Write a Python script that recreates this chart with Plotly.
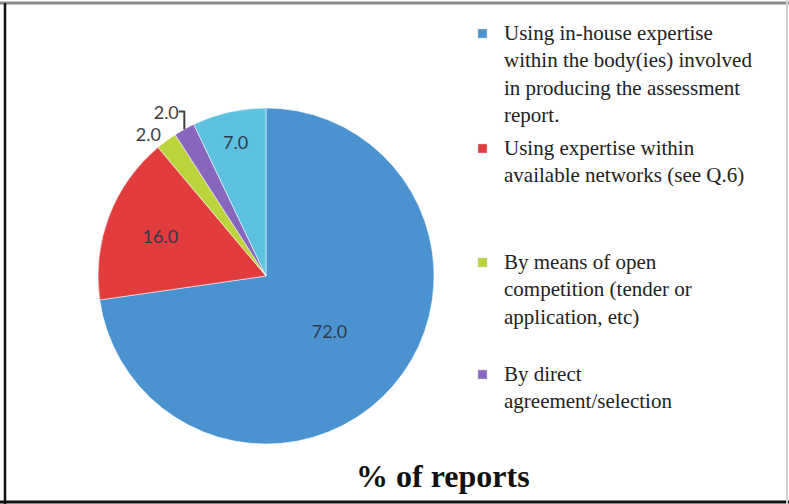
import plotly.graph_objects as go

labels = [
    "Using in-house expertise within the body(ies) involved in producing the assessment report.",
    "Using expertise within available networks (see Q.6)",
    "By means of open competition (tender or application, etc)",
    "By direct agreement/selection",
    "Other",
]
values = [72.0, 16.0, 2.0, 2.0, 7.0]
colors = ["#4a93d0", "#e23c3e", "#bcd43c", "#8767bd", "#5cc2df"]
text_pos = ["inside", "inside", "outside", "outside", "inside"]

legend_texts = [
    "Using in-house expertise<br>within the body(ies) involved<br>in producing the assessment<br>report.",
    "Using expertise within<br>available networks (see Q.6)",
    "By means of open<br>competition (tender or<br>application, etc)",
    "By direct<br>agreement/selection",
]
legend_first_line_y = [33, 148, 262, 374]  # pixel centre of first line
title_text = "% of reports"

W, H = 789, 504

fig = go.Figure()
fig.add_trace(go.Pie(
    labels=labels,
    values=values,
    sort=False,
    direction="clockwise",
    rotation=0,
    marker=dict(colors=colors, line=dict(color="rgba(255,255,255,0.55)", width=1)),
    texttemplate="%{value:.1f}",
    textinfo="text",
    textposition=text_pos,
    insidetextorientation="horizontal",
    textfont=dict(family="Lato, Liberation Sans, sans-serif", size=18, color="#2f3a4a"),
    outsidetextfont=dict(family="Lato, Liberation Sans, sans-serif", size=18, color="#404040"),
    showlegend=False,
    hoverinfo="label+value",
    domain=dict(x=[98 / W, 434 / W], y=[1 - 444 / H, 1 - 108 / H]),
))

annotations = []
shapes = []
for txt, yc, col in zip(legend_texts, legend_first_line_y, colors):
    annotations.append(dict(
        x=502 / W, y=1 - (yc - 14) / H, xref="paper", yref="paper",
        xanchor="left", yanchor="top", align="left", showarrow=False,
        text=txt,
        font=dict(family="Liberation Serif, Times New Roman, serif", size=21, color="#222222"),
    ))
    shapes.append(dict(
        type="rect", xref="paper", yref="paper",
        x0=478 / W, x1=487 / W, y0=1 - (yc + 5) / H, y1=1 - (yc - 4) / H,
        fillcolor=col, line=dict(color="#cccccc", width=0.5),
    ))

annotations.append(dict(
    x=443 / W, y=1 - 476 / H, xref="paper", yref="paper",
    xanchor="center", yanchor="middle", showarrow=False,
    text="<b>" + title_text + "</b>",
    font=dict(family="Liberation Serif, Times New Roman, serif", size=32, color="#111111"),
))

# frame
shapes += [
    dict(type="line", xref="paper", yref="paper", x0=0, x1=1, y0=1 - 3 / H, y1=1 - 3 / H,
         line=dict(color="#8a8a8a", width=3)),
    dict(type="line", xref="paper", yref="paper", x0=5 / W, x1=5 / W, y0=0, y1=1 - 3 / H,
         line=dict(color="#111111", width=2.5)),
    dict(type="line", xref="paper", yref="paper", x0=0, x1=1, y0=2 / H, y1=2 / H,
         line=dict(color="#111111", width=3)),
    dict(type="line", xref="paper", yref="paper", x0=787 / W, x1=787 / W, y0=0, y1=1,
         line=dict(color="#d0d0d0", width=2)),
]

fig.update_layout(
    width=W, height=H,
    margin=dict(l=0, r=0, t=0, b=0),
    paper_bgcolor="white",
    plot_bgcolor="white",
    annotations=annotations,
    shapes=shapes,
)

fig.write_html(
    "out.html",
    config={"displayModeBar": False},
    post_script="document.body.style.margin='0';document.body.style.overflow='hidden';",
)
